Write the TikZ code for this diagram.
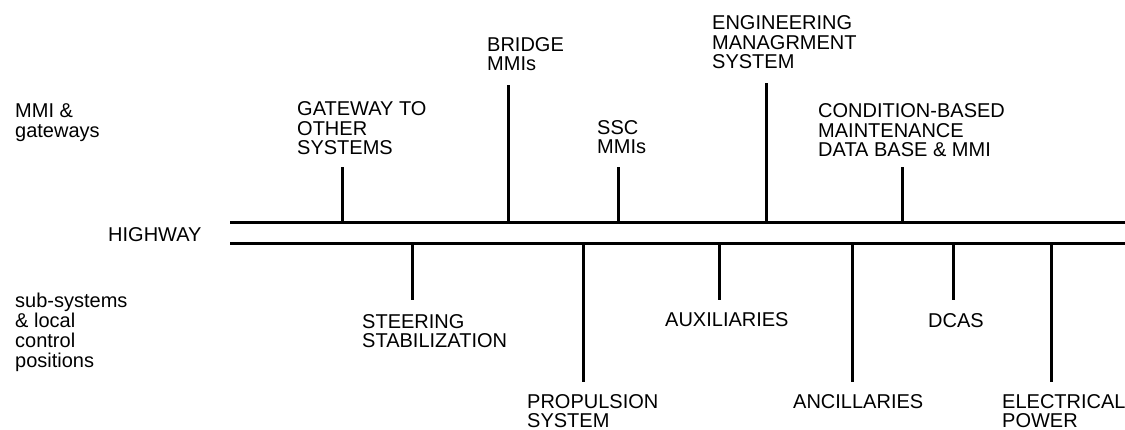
\documentclass[tikz,border=0pt]{standalone}
\usepackage{fontspec}
\setmainfont{Liberation Sans}
\begin{document}
\begin{tikzpicture}[x=1pt,y=-1pt,
  lbl/.style={anchor=base west,inner sep=0pt,align=left,font=\fontsize{20}{19.7}\selectfont},
  bus/.style={line width=3pt},
  stub/.style={line width=3pt}]
\useasboundingbox (0,0) rectangle (1125,430);
% side labels (positions give the baseline of the last line)
\node[lbl] (mmi) at (15,137.5) {MMI \&\\gateways};
\node[lbl] (hw) at (108,242) {HIGHWAY};
\node[lbl] (sub) at (15,367) {sub-systems\\\& local\\control\\positions};
% highway
\coordinate (hTL) at (230,223); \coordinate (hTR) at (1125,223);
\coordinate (hBL) at (230,244); \coordinate (hBR) at (1125,244);
\draw[bus] (hTL) -- (hTR);
\draw[bus] (hBL) -- (hBR);
% upper labels
\node[lbl] (gw) at (297,155) {GATEWAY TO\\OTHER\\SYSTEMS};
\node[lbl] (br) at (487,71) {BRIDGE\\MMIs};
\node[lbl] (ssc) at (597,154) {SSC\\MMIs};
\node[lbl] (ems) at (712,69) {ENGINEERING\\MANAGRMENT\\SYSTEM};
\node[lbl] (cbm) at (818,157) {CONDITION-BASED\\MAINTENANCE\\DATA BASE \& MMI};
% upper stubs
\coordinate (gwA) at (342,223); \coordinate (gwB) at (342,167);
\coordinate (brA) at (508,223); \coordinate (brB) at (508,85);
\coordinate (sscA) at (618,223); \coordinate (sscB) at (618,167);
\coordinate (emsA) at (766,223); \coordinate (emsB) at (766,83);
\coordinate (cbmA) at (902,223); \coordinate (cbmB) at (902,167);
\draw[stub] (gwA) -- (gwB);
\draw[stub] (brA) -- (brB);
\draw[stub] (sscA) -- (sscB);
\draw[stub] (emsA) -- (emsB);
\draw[stub] (cbmA) -- (cbmB);
% lower labels
\node[lbl] (st) at (362,348) {STEERING\\STABILIZATION};
\node[lbl] (pr) at (527,428) {PROPULSION\\SYSTEM};
\node[lbl] (aux) at (665,327) {AUXILIARIES};
\node[lbl] (anc) at (793,409) {ANCILLARIES};
\node[lbl] (dcas) at (928,328) {DCAS};
\node[lbl] (el) at (1002,428) {ELECTRICAL\\POWER};
% lower stubs
\coordinate (stA) at (412,244); \coordinate (stB) at (412,300);
\coordinate (prA) at (583,244); \coordinate (prB) at (583,382);
\coordinate (auxA) at (719,244); \coordinate (auxB) at (719,300);
\coordinate (ancA) at (852,244); \coordinate (ancB) at (852,382);
\coordinate (dcA) at (953,244); \coordinate (dcB) at (953,300);
\coordinate (elA) at (1051,244); \coordinate (elB) at (1051,382);
\draw[stub] (stA) -- (stB);
\draw[stub] (prA) -- (prB);
\draw[stub] (auxA) -- (auxB);
\draw[stub] (ancA) -- (ancB);
\draw[stub] (dcA) -- (dcB);
\draw[stub] (elA) -- (elB);
\end{tikzpicture}
\end{document}
